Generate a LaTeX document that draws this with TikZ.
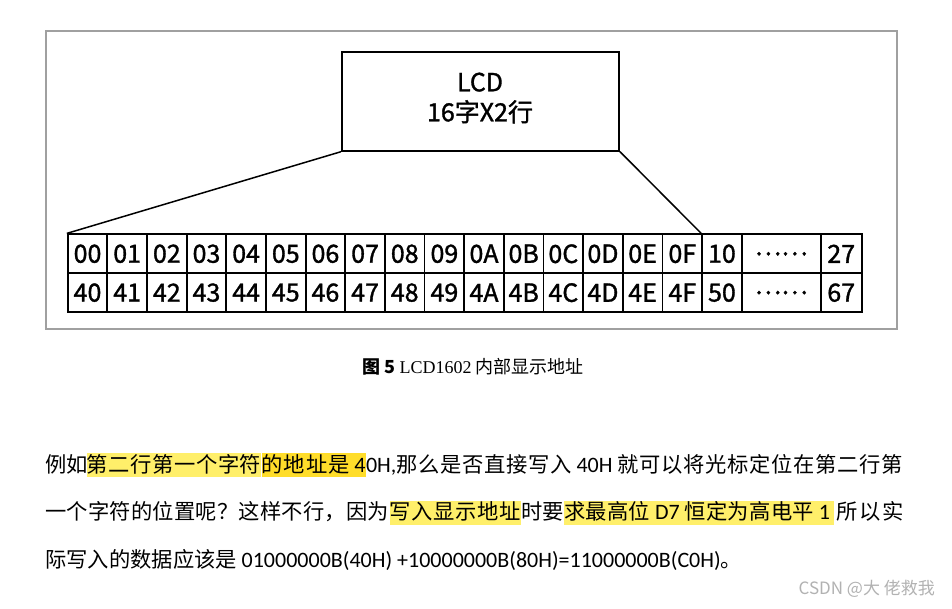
\documentclass[tikz,border=0pt]{standalone}
\usepackage{fontspec}
\setmainfont{Carlito}
\newfontfamily\cj{Noto Sans CJK SC}
\newfontfamily\cjt{Noto Sans CJK SC}[FakeBold=1.3]
\newfontfamily\serifLat{Liberation Serif}
\XeTeXinterchartokenstate=1
\makeatletter
\count@="4E00
\loop
  \XeTeXcharclass\count@=7
  \advance\count@ 1
\ifnum\count@<"A000 \repeat
\makeatother
\XeTeXcharclass"FF0C=7
\XeTeXcharclass"FF1F=7
\XeTeXcharclass"3002=7
\XeTeXinterchartoks 7 7 = {\hskip 0pt plus 1fil\relax}
\definecolor{hlA}{HTML}{FFEF6A}
\definecolor{hlB}{HTML}{FFDD2A}
\definecolor{framegray}{HTML}{A0A0A0}
\newcommand{\segbox}[2]{\hbox to #1pt{#2}}
\newcommand{\lt}{\fontsize{22}{25}\selectfont\rmfamily}
\newcommand{\ch}{\fontsize{21.3}{25}\selectfont\cj}
\begin{document}
\begin{tikzpicture}[x=1pt,y=-1pt,
  cell/.style={draw, line width=1.8pt, inner sep=0pt, minimum height=39pt,
    font=\cjt\fontsize{25}{28}\selectfont},
  body/.style={anchor=base west, inner sep=0pt, font=\fontsize{21.3}{25}\selectfont},
  hl/.style={fill=#1, text height=19pt, text depth=5pt},
  link/.style={line width=1.5pt}]
\useasboundingbox (0,0) rectangle (952,608);
\fill[white] (0,0) rectangle (952,608);
% outer frame
\node[draw=framegray, line width=1.3pt, minimum width=851pt, minimum height=298pt, inner sep=0pt] (frame) at (471.5,180) {};
% LCD box
\node[draw, line width=2pt, minimum width=277pt, minimum height=99pt, inner sep=0pt] (lcd) at (480.5,101.2) {};
\node[align=center, font=\cjt\fontsize{25}{30}\selectfont, inner sep=0pt] (lcdtext) at (480,98) {LCD\\16字X2行};
% table
\foreach \t/\b [count=\i from 0] in {00/40,01/41,02/42,03/43,04/44,05/45,06/46,07/47,08/48,09/49,0A/4A,0B/4B,0C/4C,0D/4D,0E/4E,0F/4F,10/50}{
  \pgfmathsetmacro\cx{67.7+39.65*\i+19.825}
  \node[cell, minimum width=39.65pt] (t\i) at (\cx,253.8) {\t};
  \node[cell, minimum width=39.65pt, minimum height=38.7pt] (b\i) at (\cx,292.65) {\b};
}
\node[cell, minimum width=79pt] (tdots) at (781.2,253.8) {……};
\node[cell, minimum width=79pt, minimum height=38.7pt] (bdots) at (781.2,292.65) {……};
\node[cell, minimum width=41pt] (t27) at (841.2,253.8) {27};
\node[cell, minimum width=41pt, minimum height=38.7pt] (b67) at (841.2,292.65) {67};
% connectors
\draw[link] (lcd.south west) -- (t0.north west);
\draw[link] (lcd.south east) -- (t16.north west);
% caption
\node[anchor=base, inner sep=0pt, font=\fontsize{18}{22}\selectfont] (cap) at (473,373)
  {{\cj\bfseries 图 5} {\serifLat LCD1602} {\cj 内部显示地址}};
% paragraph line 1
\node[body] (l1a) at (45,472) {\ch 例如};
\node[body,hl=hlA] (l1b) at (86.7,472) {\segbox{174.3}{\ch 第二行第一个字符}};
\node[body,hl=hlB] (l1c) at (l1b.base east) {\segbox{104}{\ch 的地址是 \lt 4}};
\node[body] (l1d) at (l1c.base east) {\segbox{537}{\lt 0H,\ch 那么是否直接写入 \lt 40H \ch 就可以将光标定位在第二行第}};
% line 2
\node[body] (l2a) at (45,519.5) {\segbox{344}{\ch 一个字符的位置呢？这样不行，因为}};
\node[body,hl=hlA] (l2b) at (l2a.base east) {\segbox{131}{\ch 写入显示地址}};
\node[body] (l2c) at (l2b.base east) {\segbox{42.7}{\ch 时要}};
\node[body,hl=hlA] (l2d) at (l2c.base east) {\segbox{270}{\ch 求最高位 \lt D7 \ch 恒定为高电平 \lt 1\hskip 4pt}};
\node[body] (l2e) at (l2d.base east) {\segbox{69.3}{\hskip 0pt plus 1fil\ch 所以实}};
% line 3
\node[body] (l3) at (45,567) {\ch 际写入的数据应该是 \lt 01000000B(40H) +10000000B(80H)=11000000B(C0H)\ch 。};
% watermark
\node[anchor=base east, inner sep=0pt, text=gray!60, font=\cj\fontsize{17}{20}\selectfont] (wm) at (935,594) {CSDN @大 佬救我};
\end{tikzpicture}
\end{document}
